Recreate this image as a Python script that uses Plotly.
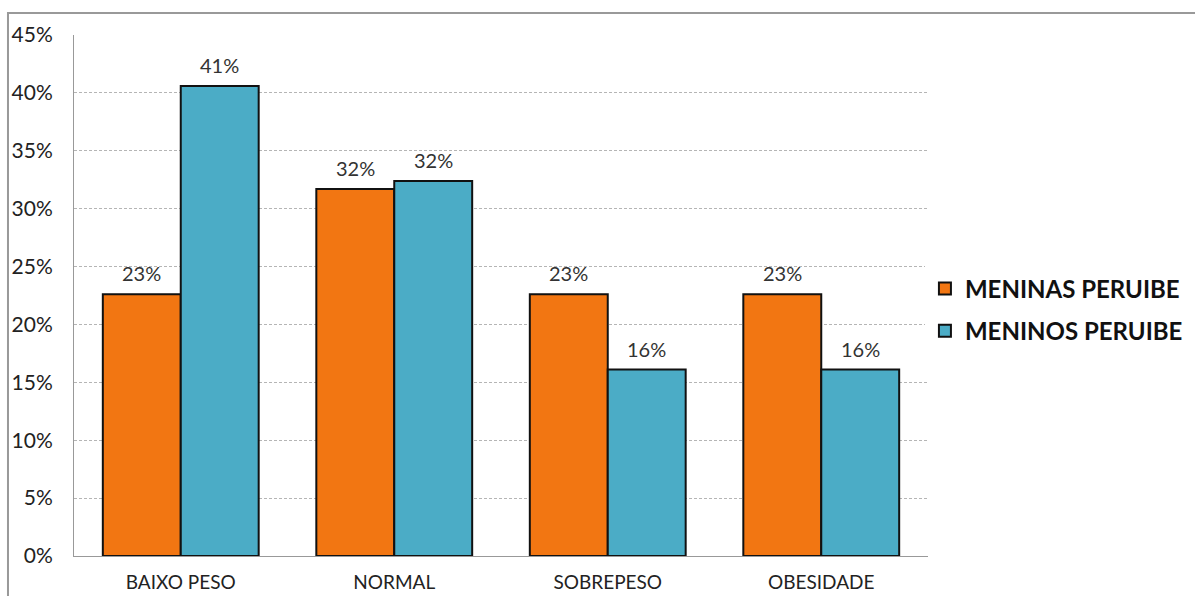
import plotly.graph_objects as go

categorias = ["BAIXO PESO", "NORMAL", "SOBREPESO", "OBESIDADE"]
meninas = [0.226, 0.317, 0.226, 0.226]
meninos = [0.406, 0.324, 0.161, 0.161]
serie_nomes = ["MENINAS PERUIBE", "MENINOS PERUIBE"]
cores = ["#F27612", "#4BACC6"]
y_ticks = [0, 0.05, 0.10, 0.15, 0.20, 0.25, 0.30, 0.35, 0.40, 0.45]

FONT = "Lato"
BARGAP = 0.27
bar_w = (1 - BARGAP) / 2


def pct(v):
    return f"{int(v * 100 + 0.5)}%"


fig = go.Figure()
for nome, vals, cor in zip(serie_nomes, [meninas, meninos], cores):
    fig.add_trace(go.Bar(
        x=categorias, y=vals, name=nome, legendgroup=nome,
        marker=dict(color=cor, line=dict(color="#111111", width=2)),
    ))

# value labels above each bar
annotations = []
for i, vals in enumerate([meninas, meninos]):
    offset = (i - 0.5) * bar_w
    for j, v in enumerate(vals):
        annotations.append(dict(
            x=j + offset, y=v, xref="x", yref="y",
            text=pct(v), showarrow=False,
            yanchor="bottom", yshift=7,
            font=dict(family=FONT, size=20, color="#333333"),
        ))

fig.update_layout(
    width=1195, height=596,
    margin=dict(l=74, r=267, t=35, b=40, autoexpand=False),
    paper_bgcolor="white", plot_bgcolor="white",
    barmode="group", bargap=BARGAP, bargroupgap=0,
    font=dict(family=FONT, color="#333333"),
    annotations=annotations,
    legend=dict(
        xref="container", yref="container",
        x=0.774, y=0.48, xanchor="left", yanchor="middle",
        font=dict(family=FONT, size=24, color="#111111", weight="bold"),
        tracegroupgap=8, itemwidth=30,
    ),
    shapes=[dict(
        type="rect", xref="paper", yref="paper",
        x0=-0.0773, x1=1.5, y0=-0.2, y1=1.0422,
        line=dict(color="#999999", width=2), fillcolor="rgba(0,0,0,0)",
        layer="below",
    )],
)
fig.update_xaxes(
    showline=True, linecolor="#999999", linewidth=1,
    tickfont=dict(family=FONT, size=19, color="#222222"),
    ticks="", ticklabelstandoff=9, automargin=False,
)
fig.update_yaxes(
    range=[0, 0.45], tickvals=y_ticks, tickformat=".0%",
    showgrid=True, gridcolor="#B5B5B5", griddash="3px,2px", gridwidth=1,
    showline=True, linecolor="#999999", linewidth=1,
    zeroline=False,
    tickfont=dict(family=FONT, size=21, color="#222222"),
    ticks="", ticklabelstandoff=16, automargin=False,
)

fig.write_html("out.html")
